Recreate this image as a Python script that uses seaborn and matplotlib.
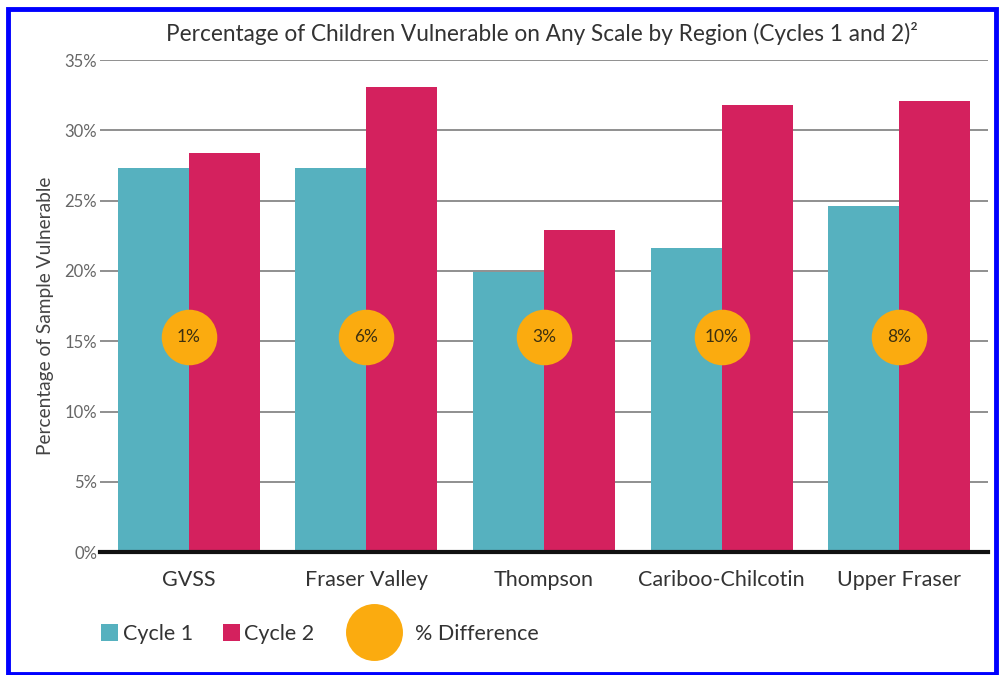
import numpy as np
import pandas as pd
import matplotlib
matplotlib.use("Agg")
import matplotlib.pyplot as plt
import seaborn as sns
from matplotlib.patches import Patch, Rectangle
from matplotlib.lines import Line2D

regioes = ["GVSS", "Fraser Valley", "Thompson", "Cariboo-Chilcotin", "Upper Fraser"]
ciclo1 = [27.3, 27.3, 19.9, 21.6, 24.6]
ciclo2 = [28.4, 33.1, 22.9, 31.8, 32.1]
diferenca = ["1%", "6%", "3%", "10%", "8%"]
altura_circulo = 15.3

cor_c1 = "#56b1bf"
cor_c2 = "#d4215e"
cor_laranja = "#fbab0f"

sns.set_style("white")
plt.rcParams['font.family'] = ['Lato', 'DejaVu Sans']

df = pd.DataFrame({
    'regiao': regioes * 2,
    'ciclo': ['Cycle 1'] * len(regioes) + ['Cycle 2'] * len(regioes),
    'valor': ciclo1 + ciclo2,
})

fig = plt.figure(figsize=(10, 6.75), dpi=100)
ax = fig.add_axes([0.100, 0.182, 0.888, 0.729])

sns.barplot(
    data=df, x='regiao', y='valor', hue='ciclo',
    palette={'Cycle 1': cor_c1, 'Cycle 2': cor_c2},
    width=0.8, saturation=1, ax=ax, legend=False, zorder=2,
    edgecolor='none', linewidth=0
)

# circulos com a diferenca
xs = np.arange(len(regioes))
ax.scatter(xs, [altura_circulo] * len(xs), s=1600, color=cor_laranja, zorder=4, linewidths=0)
for x, txt in zip(xs, diferenca):
    ax.text(x, altura_circulo, txt, ha='center', va='center', fontsize=12.5,
            color='#3d300f', zorder=5)

ax.set_xlim(-0.5, len(regioes) - 0.5)
ax.set_ylim(0, 35)
ax.set_yticks(np.arange(0, 36, 5))
ax.set_yticklabels([f"{v}%" for v in range(0, 36, 5)], fontsize=12, color='#666666')
ax.tick_params(axis='y', length=0, pad=2)
ax.tick_params(axis='x', length=0, pad=13, labelsize=15.5, labelcolor='#333333')
ax.yaxis.grid(True, color='#8f8f8f', linewidth=1.4, zorder=0)
ax.set_axisbelow(True)
for lado in ['top', 'right', 'left']:
    ax.spines[lado].set_visible(False)
ax.spines['bottom'].set_color('#111111')
ax.spines['bottom'].set_linewidth(3)
ax.spines['bottom'].set_zorder(6)

ax.set_xlabel('')
ax.set_ylabel('Percentage of Sample Vulnerable', fontsize=13.8, color='#444444')
ax.yaxis.set_label_coords(-0.052, 0.48)

fig.text(0.542, 0.951, 'Percentage of Children Vulnerable on Any Scale by Region (Cycles 1 and 2)²',
         ha='center', va='center', fontsize=16.3, color='#333333')

handles_ciclos = [
    Patch(facecolor=cor_c1, edgecolor='none'),
    Patch(facecolor=cor_c2, edgecolor='none'),
]
fig.legend(handles_ciclos, ['Cycle 1', 'Cycle 2'], ncol=2, frameon=False,
           loc='center left', bbox_to_anchor=(0.101, 0.061), fontsize=15.5,
           borderpad=0, borderaxespad=0,
           handlelength=0.8, handleheight=0.8, handletextpad=0.2, columnspacing=1.4,
           labelcolor='#333333')

handle_circulo = [Line2D([], [], marker='o', linestyle='none', markersize=41,
                         markerfacecolor=cor_laranja, markeredgewidth=0)]
fig.legend(handle_circulo, ['% Difference'], frameon=False,
           loc='center left', bbox_to_anchor=(0.345, 0.061), fontsize=15.5,
           borderpad=0, borderaxespad=0,
           handlelength=2.7, handletextpad=0.55, labelcolor='#333333')

# moldura azul
fig.patches.append(Rectangle((0.008, 0.002), 0.988, 0.984, transform=fig.transFigure,
                             fill=False, edgecolor='#0000ff', linewidth=3.5))

fig.savefig('out.png', dpi=100, facecolor='white')
